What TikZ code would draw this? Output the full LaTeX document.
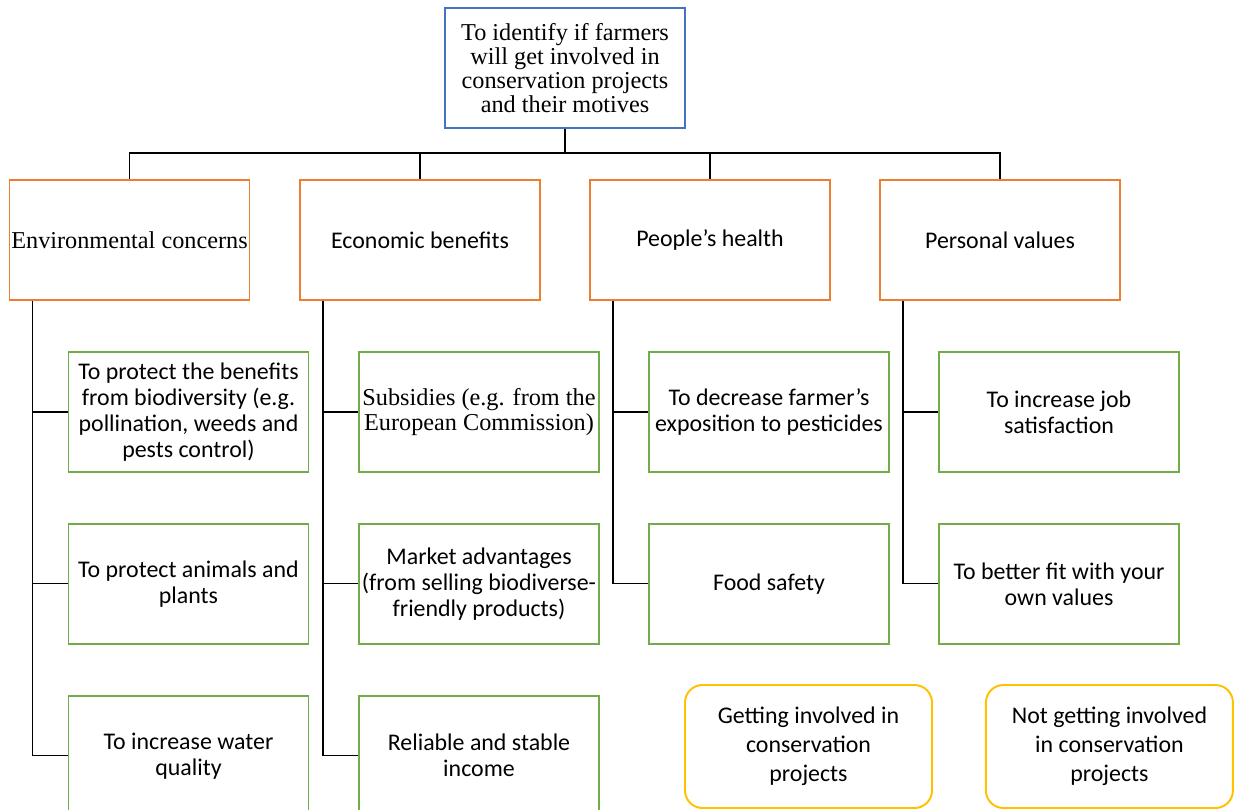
\documentclass[tikz,border=0pt]{standalone}
\usepackage{fontspec}
\setmainfont{Liberation Serif}
\newfontfamily\carlito{Carlito}
\usetikzlibrary{positioning}

\definecolor{goalblue}{HTML}{4472C4}
\definecolor{motiveorange}{HTML}{ED7D31}
\definecolor{reasongreen}{HTML}{70AD47}
\definecolor{outcomeyellow}{HTML}{FFC000}

\begin{document}
\begin{tikzpicture}[
    box/.style={rectangle, draw, line width=1.1pt, minimum width=4.8cm, minimum height=2.4cm, align=center, inner sep=0.5pt},
    goal/.style={box, draw=goalblue, font=\fontsize{13.8}{13.6}\selectfont},
    motive/.style={box, draw=motiveorange, font=\carlito\fontsize{13.6}{15}\selectfont},
    reason/.style={box, draw=reasongreen, font=\carlito\fontsize{13.6}{14.8}\selectfont},
    serif/.style={font=\rmfamily\fontsize{13.8}{14}\selectfont},
    outcome/.style={box, rounded corners=0.35cm, draw=outcomeyellow,
        minimum width=4.94cm, minimum height=2.46cm,
        font=\carlito\fontsize{13.6}{16.5}\selectfont},
    link/.style={line width=0.75pt}
]
\useasboundingbox (0,0) rectangle (24.7,-16.18);

% Aim of the study
\node[goal] (goal) at (11.3,-1.36) {To identify if farmers \\ will get involved in \\ conservation projects \\ and their motives};

% Motives
\node[motive, serif, below=1cm of goal, xshift=-8.71cm] (env) {Environmental concerns};
\node[motive, below=1cm of goal, xshift=-2.9cm] (econ) {Economic benefits};
\node[motive, below=1cm of goal, xshift=2.9cm] (health) {People’s health};
\node[motive, below=1cm of goal, xshift=8.7cm] (pers) {Personal values};

% Reasons under each motive
\node[reason, below=1cm of env, xshift=1.18cm] (env1) {To protect the benefits \\ from biodiversity (e.g. \\ pollination, weeds and \\ pests control)};
\node[reason, below=1cm of env1] (env2) {To protect animals and \\ plants};
\node[reason, below=1cm of env2] (env3) {To increase water \\ quality};

\node[reason, serif, below=1cm of econ, xshift=1.18cm] (econ1) {Subsidies (e.g. from the \\ European Commission)};
\node[reason, below=1cm of econ1] (econ2) {Market advantages \\ (from selling biodiverse- \\ friendly products)};
\node[reason, below=1cm of econ2] (econ3) {Reliable and stable \\ income};

\node[reason, below=1cm of health, xshift=1.18cm] (health1) {To decrease farmer’s \\ exposition to pesticides};
\node[reason, below=1cm of health1] (health2) {Food safety};

\node[reason, below=1cm of pers, xshift=1.18cm] (pers1) {To increase job \\ satisfaction};
\node[reason, below=1cm of pers1] (pers2) {To better fit with your \\ own values};

% Outcomes
\node[outcome] (yes) at (16.17,-14.93) {Getting involved in \\ conservation \\ projects};
\node[outcome, right=1.04cm of yes] (no) {Not getting involved \\ in conservation \\ projects};

% Connectors
\draw[link] (goal.south) -- ++(0,-0.48) coordinate (bus);
\foreach \m in {env,econ,health,pers}
    \draw[link] (bus) -| (\m.north);

\foreach \m/\r in {env/env1, env/env2, env/env3, econ/econ1, econ/econ2, econ/econ3,
                   health/health1, health/health2, pers/pers1, pers/pers2}
    \draw[link] ([xshift=0.48cm]\m.south west) |- (\r.west);

\end{tikzpicture}
\end{document}
